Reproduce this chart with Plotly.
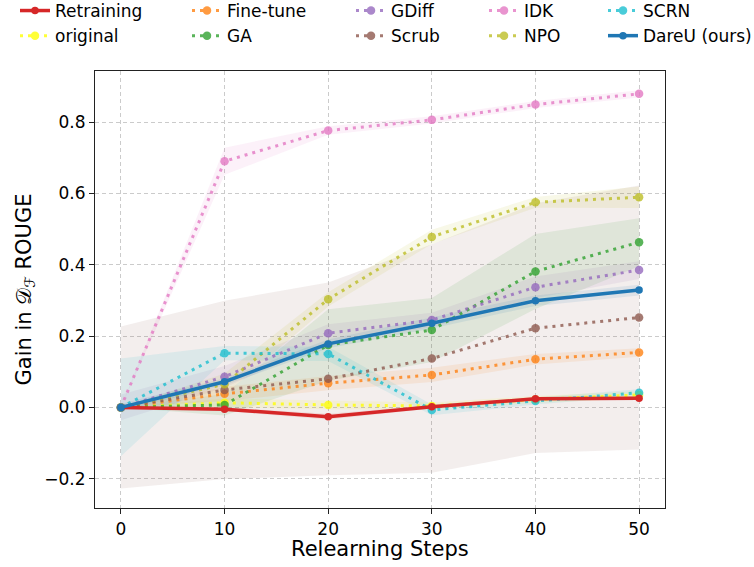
import plotly.graph_objects as go

steps = [0, 10, 20, 30, 40, 50]

retraining = [0, -0.005, -0.026, 0.002, 0.024, 0.026]
original = [0, 0.013, 0.007, 0.004, 0.022, 0.035]
fine_tune = [0, 0.038, 0.068, 0.091, 0.135, 0.154]
ga = [0, 0.007, 0.175, 0.217, 0.381, 0.463]
gdiff = [0, 0.086, 0.208, 0.245, 0.337, 0.385]
scrub = [0, 0.049, 0.080, 0.137, 0.222, 0.252]
idk = [0, 0.690, 0.776, 0.806, 0.849, 0.879]
npo = [0, 0.065, 0.303, 0.478, 0.575, 0.589]
scrn = [0, 0.152, 0.150, -0.007, 0.018, 0.041]
dareu = [0, 0.072, 0.178, 0.236, 0.299, 0.329]

retraining_std = [0, 0.005, 0.008, 0.005, 0.005, 0.005]
original_std = [0, 0.012, 0.012, 0.01, 0.01, 0.01]
fine_tune_std = [0, 0.02, 0.02, 0.02, 0.015, 0.012]
ga_std = [0, 0.03, 0.1, 0.09, 0.105, 0.067]
gdiff_std = [0.036, 0.03, 0.025, 0.02, 0.03, 0.025]
scrub_std = [0.227, 0.25, 0.27, 0.32, 0.35, 0.37]
idk_std = [0, 0.038, 0.012, 0.01, 0.01, 0.01]
npo_std = [0, 0.03, 0.02, 0.02, 0.015, 0.03]
scrn_std = [0.137, 0.02, 0.02, 0.015, 0.01, 0.01]
dareu_std = [0.01, 0.01, 0.012, 0.015, 0.015, 0.015]

x_title = "Relearning Steps"
y_title = "Gain in 𝒟<sub>ℱ</sub> ROUGE"

# name, values, std, color, dotted, legend, rank
series = [
    ("original", original, original_std, (255, 255, 0), True, "legend", 2),
    ("Fine-tune", fine_tune, fine_tune_std, (255, 127, 14), True, "legend2", 1),
    ("GA", ga, ga_std, (44, 160, 44), True, "legend2", 2),
    ("GDiff", gdiff, gdiff_std, (148, 103, 189), True, "legend3", 1),
    ("Scrub", scrub, scrub_std, (140, 86, 75), True, "legend3", 2),
    ("IDK", idk, idk_std, (227, 119, 194), True, "legend4", 1),
    ("NPO", npo, npo_std, (188, 189, 34), True, "legend4", 2),
    ("SCRN", scrn, scrn_std, (23, 190, 207), True, "legend5", 1),
    ("Retraining", retraining, retraining_std, (214, 39, 40), False, "legend", 1),
    ("DareU (ours)", dareu, dareu_std, (31, 119, 180), False, "legend5", 2),
]

fig = go.Figure()

# shaded bands
for name, vals, std, c, dotted, lg, rk in series:
    upper = [v + s for v, s in zip(vals, std)]
    lower = [v - s for v, s in zip(vals, std)]
    fig.add_trace(go.Scatter(
        x=steps + steps[::-1], y=upper + lower[::-1],
        fill="toself", fillcolor=f"rgba({c[0]},{c[1]},{c[2]},0.1)",
        line=dict(width=0), mode="lines", showlegend=False, hoverinfo="skip",
    ))

for name, vals, std, c, dotted, lg, rk in series:
    col = f"rgb({c[0]},{c[1]},{c[2]})"
    if dotted:
        fig.add_trace(go.Scatter(
            x=steps, y=vals, name=name, mode="lines+markers",
            line=dict(color=col, width=3, dash="3px,5px"),
            marker=dict(color=col, size=8.5),
            opacity=0.78, legend=lg, legendrank=rk,
        ))
    else:
        fig.add_trace(go.Scatter(
            x=steps, y=vals, name=name, mode="lines+markers",
            line=dict(color=col, width=3.5),
            marker=dict(color=col, size=7.5),
            opacity=1.0, legend=lg, legendrank=rk,
        ))

PLOT_TOP, PLOT_BOTTOM, PLOT_LEFT, PLOT_RIGHT = 71, 508, 95, 665
plot_h = PLOT_BOTTOM - PLOT_TOP
plot_w = PLOT_RIGHT - PLOT_LEFT

leg_common = dict(
    orientation="v", xref="container", yref="paper",
    yanchor="top", xanchor="left", bgcolor="rgba(0,0,0,0)",
    font=dict(family="DejaVu Sans", size=17, color="black"),
    tracegroupgap=0, itemwidth=30,
)
leg_x = [15, 187, 351, 484, 603]
legs = {}
for i, px in enumerate(leg_x):
    key = "legend" if i == 0 else f"legend{i+1}"
    legs[key] = dict(leg_common, x=px / 754, y=1 + (PLOT_TOP + 7) / plot_h)

fig.update_layout(
    width=754, height=567,
    margin=dict(l=PLOT_LEFT, r=754 - PLOT_RIGHT, t=PLOT_TOP, b=567 - PLOT_BOTTOM,
                autoexpand=False),
    paper_bgcolor="white", plot_bgcolor="white",
    font=dict(family="DejaVu Sans", size=17, color="black"),
    xaxis=dict(
        range=[-2.5, 52.5], tickvals=[0, 10, 20, 30, 40, 50],
        showgrid=True, gridcolor="#cbcbcb", griddash="4px,3px", gridwidth=1,
        showline=True, linecolor="#222", linewidth=1.2, mirror=True,
        ticks="outside", ticklen=5, tickcolor="#222",
        zeroline=False, automargin=False,
    ),
    yaxis=dict(
        range=[-0.282, 0.943], tickvals=[-0.2, 0, 0.2, 0.4, 0.6, 0.8],
        tickformat=".1f",
        showgrid=True, gridcolor="#cbcbcb", griddash="4px,3px", gridwidth=1,
        showline=True, linecolor="#222", linewidth=1.2, mirror=True,
        ticks="outside", ticklen=5, tickcolor="#222",
        zeroline=False, automargin=False,
    ),
    annotations=[
        dict(text=x_title, xref="paper", yref="paper", x=0.5,
             y=(PLOT_BOTTOM - 549) / plot_h,
             xanchor="center", yanchor="middle", showarrow=False,
             font=dict(family="DejaVu Sans", size=21, color="black")),
        dict(text=y_title, xref="paper", yref="paper",
             x=(24 - PLOT_LEFT) / plot_w, y=0.5,
             xanchor="center", yanchor="middle", showarrow=False, textangle=-90,
             font=dict(family="DejaVu Sans", size=21, color="black")),
    ],
    **legs,
)

fig.write_html("out.html", config={"displayModeBar": False},
               post_script="document.body.style.margin='0';")
